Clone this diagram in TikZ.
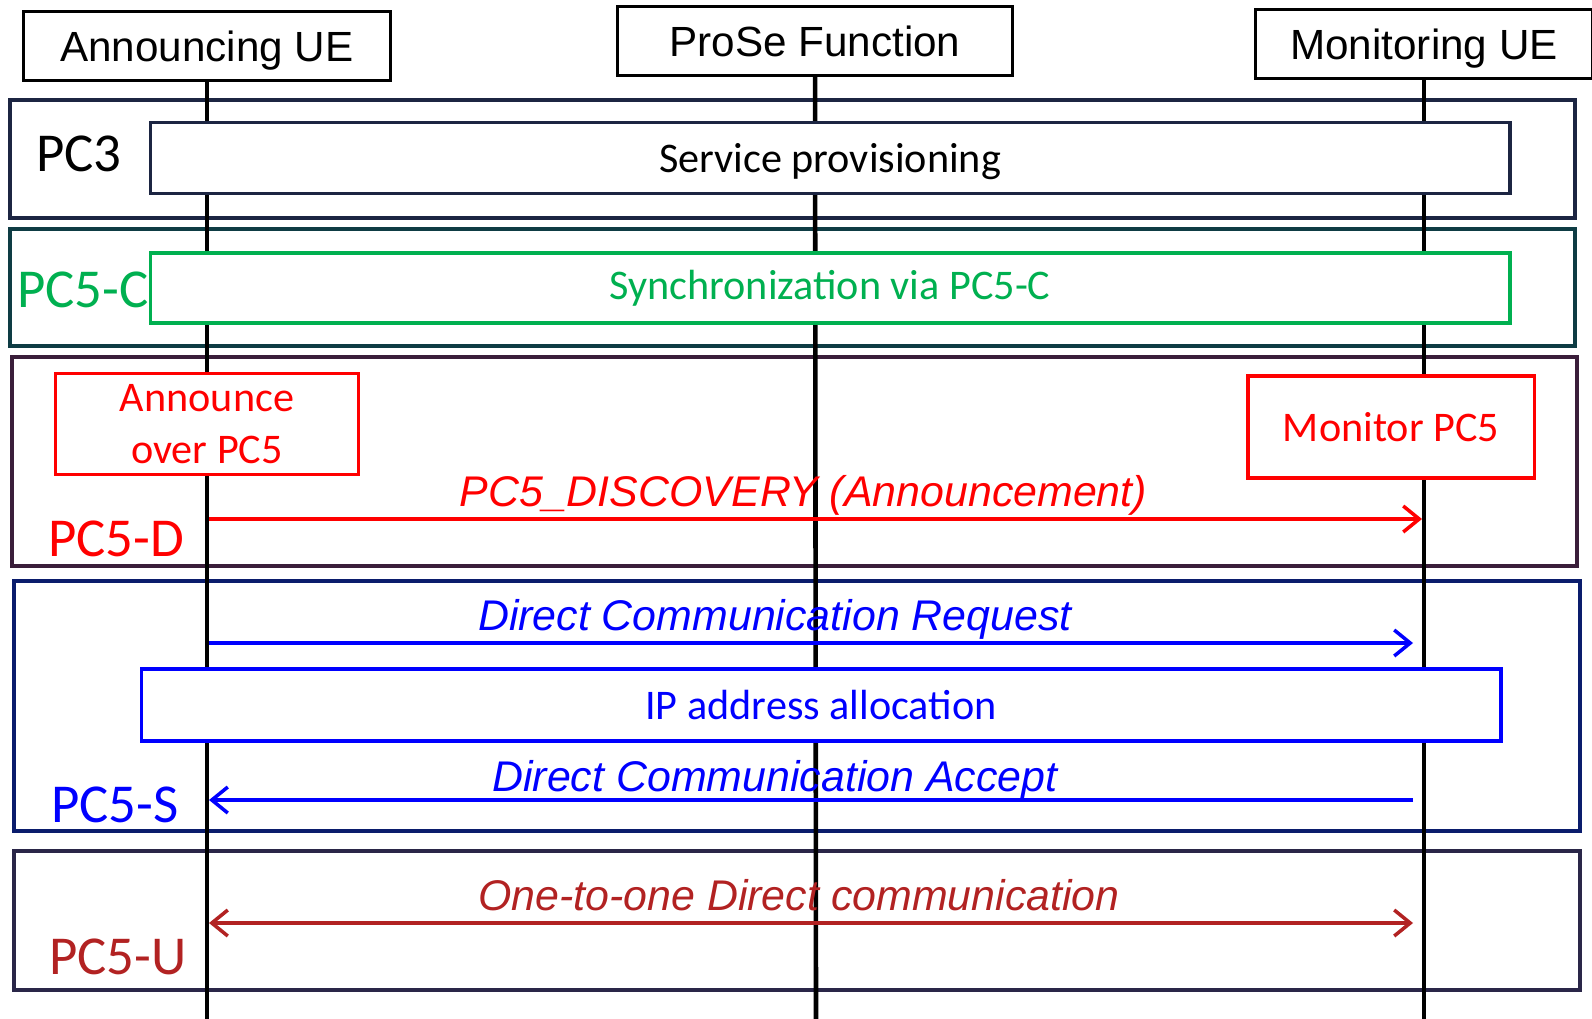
\documentclass[tikz,border=0pt]{standalone}
\usepackage{fontspec}
\setmainfont{Carlito}
\newfontfamily\arialfont{Liberation Sans}
\usetikzlibrary{arrows.meta,positioning}

\definecolor{navyframe}{RGB}{28,37,66}
\definecolor{tealframe}{RGB}{14,60,68}
\definecolor{plumframe}{RGB}{58,30,58}
\definecolor{blueframe}{RGB}{10,28,108}
\definecolor{duskframe}{RGB}{42,38,72}
\definecolor{syncgreen}{RGB}{0,176,80}
\definecolor{linkred}{RGB}{178,34,34}

\begin{document}
\begin{tikzpicture}
		[x=0.01cm,y=-0.01cm,
		actor/.style={draw,line width=0.85pt,fill=white,minimum height=0.69cm,inner sep=0pt,text depth=0pt,font=\arialfont\fontsize{12}{14}\selectfont},
		life/.style={line width=1.3pt},
		frame/.style={line width=1.2pt},
		stepbox/.style={draw,line width=0.9pt,fill=white,inner sep=0pt,align=center,font=\fontsize{12}{14.8}\selectfont},
		iface/.style={inner sep=0pt,font=\fontsize{15.6}{18}\selectfont},
		msg/.style={line width=1pt,-{Straight Barb[length=1.6mm,width=2.6mm]}},
		twoway/.style={line width=1pt,{Straight Barb[length=1.6mm,width=2.6mm]}-{Straight Barb[length=1.6mm,width=2.6mm]}},
		msgtext/.style={anchor=base,inner sep=0pt,yshift=1.3mm,font=\arialfont\itshape\fontsize{12.2}{14}\selectfont}]
		
		\fill[white] (0,0) rectangle (1592,1018);
		\useasboundingbox (0,0) rectangle (1592,1018);
		
		% participants
		\node[actor,minimum width=3.67cm] (aue) at (207,46) {Announcing UE};
		\node[actor,minimum width=3.95cm] (pf) at (815,41) {ProSe Function};
		\node[actor,minimum width=3.37cm] (mue) at (1424,44) {Monitoring UE};
		
		\coordinate (aue-end) at (207,1020);
		\coordinate (pf-end) at (816,1020);
		\coordinate (mue-end) at (1424,1020);
		
		% interface frames
		\draw[frame,navyframe] (10,100) rectangle (1575,218);
		\draw[frame,tealframe] (10,229) rectangle (1575,346);
		\draw[frame,plumframe] (12,357) rectangle (1577,566);
		\draw[frame,blueframe] (14,581) rectangle (1580,831);
		\draw[frame,duskframe] (14,851) rectangle (1580,990);
		
		\draw[life] (aue) -- (aue-end);
		\draw[life] (pf) -- (pf-end);
		\draw[life] (mue) -- (mue-end);
		
		% procedures
		\node[stepbox,draw=navyframe,text depth=0pt,minimum width=13.59cm,minimum height=0.71cm] (svc) at (830,158) {Service provisioning};
		\node[stepbox,draw=syncgreen,text=syncgreen,minimum width=13.59cm,minimum height=0.70cm] (sync) at (830,288) {Synchronization via PC5-C};
		\node[stepbox,draw=red,text=red,minimum width=3.03cm,minimum height=1.01cm] (ann) at (207,424) {Announce\\over PC5};
		\node[stepbox,draw=red,text=red,minimum width=2.86cm,minimum height=1.02cm] (mon) at (1391,427) {Monitor PC5};
		\node[stepbox,draw=blue,text=blue,minimum width=13.59cm,minimum height=0.72cm] (ip) at (821,705) {IP address allocation};
		
		\node[iface] (pc3) at (79,154) {PC3};
		\node[iface,syncgreen] (pc5c) at (83,290) {PC5-C};
		\node[iface,red] (pc5d) at (116,539) {PC5-D};
		\node[iface,blue] (pc5s) at (115,805) {PC5-S};
		\node[iface,linkred] (pc5u) at (118,957) {PC5-U};
		
		% messages
		\coordinate (disc-a) at (209,519);
		\coordinate (disc-m) at (1422,519);
		\coordinate (req-a) at (209,643);
		\coordinate (req-m) at (1413,643);
		\coordinate (acc-m) at (1413,800);
		\coordinate (acc-a) at (209,800);
		\coordinate (uni-a) at (209,923);
		\coordinate (uni-m) at (1413,923);
		
		\draw[msg,red] (disc-a) to node [msgtext,pos=.49] {PC5\_DISCOVERY (Announcement)} (disc-m);
		\draw[msg,blue] (req-a) to node [msgtext,pos=.47] {Direct Communication Request} (req-m);
		\draw[msg,blue] (acc-m) to node [msgtext,pos=.53,yshift=-0.4mm] {Direct Communication Accept} (acc-a);
		\draw[twoway,linkred] (uni-a) to node [msgtext,pos=.49] {One-to-one Direct communication} (uni-m);
		\end{tikzpicture}
\end{document}
